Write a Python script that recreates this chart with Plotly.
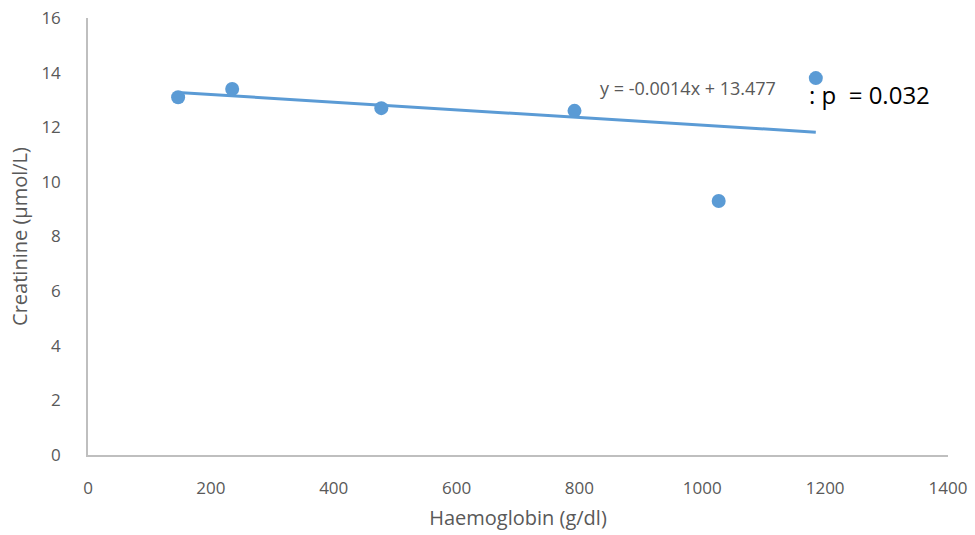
import plotly.graph_objects as go

haemoglobin = [146.7, 234.7, 477.5, 792.0, 1026.7, 1184.8]
creatinine = [13.1, 13.4, 12.7, 12.6, 9.3, 13.8]
slope = -0.0014
intercept = 13.477
x_ticks = [0, 200, 400, 600, 800, 1000, 1200, 1400]
y_ticks = [0, 2, 4, 6, 8, 10, 12, 14, 16]

blue = "#5b9bd5"
grey = "#595959"
font_family = "Open Sans, Noto Sans, sans-serif"

x_line = [min(haemoglobin), max(haemoglobin)]
y_line = [slope * v + intercept for v in x_line]

fig = go.Figure()
fig.add_trace(go.Scatter(x=x_line, y=y_line, mode="lines",
                         line=dict(color=blue, width=3), hoverinfo="skip"))
fig.add_trace(go.Scatter(x=haemoglobin, y=creatinine, mode="markers",
                         marker=dict(color=blue, size=14)))

fig.add_annotation(x=0.6977, y=0.8398, xref="paper", yref="paper",
                   text="y = -0.0014x + 13.477", showarrow=False,
                   xanchor="center", yanchor="middle",
                   font=dict(family=font_family, size=18, color=grey))
fig.add_annotation(x=1170, y=13.2, xref="x", yref="y",
                   text=": p  = 0.032", showarrow=False,
                   xanchor="left", yanchor="middle",
                   font=dict(family=font_family, size=24, color="black"))

fig.update_layout(
    width=975, height=535,
    margin=dict(l=88, r=27, t=18, b=80),
    plot_bgcolor="white", paper_bgcolor="white",
    showlegend=False,
    font=dict(family=font_family, color=grey, size=17),
    xaxis=dict(range=[0, 1400], tickvals=x_ticks, showgrid=False, zeroline=False,
               showline=True, linecolor="#bfbfbf", linewidth=1.5,
               ticks="", ticklen=0, automargin=False, ticklabelstandoff=17,
               ticklabeloverflow="allow",
               title=dict(text="Haemoglobin (g/dl)", font=dict(size=20, color=grey), standoff=13),
               tickfont=dict(size=17, color=grey)),
    yaxis=dict(range=[0, 16], tickvals=y_ticks, showgrid=False, zeroline=False,
               showline=True, linecolor="#bfbfbf", linewidth=1.5,
               ticks="", ticklen=0, automargin=False, ticklabelstandoff=22,
               ticklabeloverflow="allow",
               title=dict(text="Creatinine (µmol/L)", font=dict(size=20, color=grey), standoff=8),
               tickfont=dict(size=17, color=grey)),
)

fig.write_html("out.html", config={"displayModeBar": False},
               post_script="document.body.style.margin='0px';")
